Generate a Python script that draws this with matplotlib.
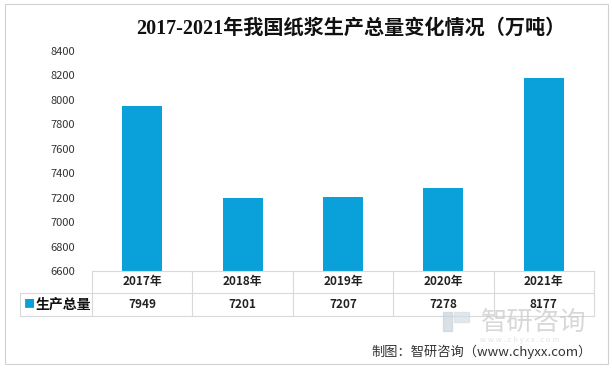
import matplotlib.pyplot as plt
from matplotlib.patches import Rectangle
from matplotlib.transforms import blended_transform_factory

# Datos
years = ['2017年', '2018年', '2019年', '2020年', '2021年']
output = [7949, 7201, 7207, 7278, 8177]
yticks = [6600, 6800, 7000, 7200, 7400, 7600, 7800, 8000, 8200, 8400]
series_name = '生产总量'

W, H = 612, 369
bar_color = '#0AA0DA'
line_color = '#D9D9D9'
cjk = ['Noto Sans CJK SC', 'DejaVu Sans']
plt.rcParams['font.family'] = cjk

fig = plt.figure(figsize=(W / 100, H / 100), dpi=100)

# marco exterior
fig.patches.append(Rectangle((5 / W, 1 - 364 / H), 603 / W, 360 / H,
                             transform=fig.transFigure, fill=False,
                             edgecolor='#D0D0D0', linewidth=0.8))

ax = fig.add_axes([92 / W, 1 - 271 / H, 502 / W, 220 / H])
x = range(len(years))
ax.bar(x, output, width=0.4, color=bar_color, zorder=2)
ax.set_xlim(-0.5, len(years) - 0.5)
ax.set_ylim(yticks[0], yticks[-1])
ax.set_yticks(yticks)
ax.set_yticklabels([str(v) for v in yticks], fontsize=8, color='#333333')
ax.tick_params(axis='y', length=0, pad=12)
ax.set_xticks([])
for s in ax.spines.values():
    s.set_visible(False)

# tabla de datos
tr = blended_transform_factory(ax.transData, ax.transAxes)
n = len(years)
left = -0.5 - 72 / 100.4
row_top, row_mid, row_bot = 0.0, -0.1, -0.205
kw = dict(transform=tr, clip_on=False, color=line_color, linewidth=0.8)
ax.plot([-0.5, n - 0.5], [row_top, row_top], **kw)
ax.plot([left, n - 0.5], [row_mid, row_mid], **kw)
ax.plot([left, n - 0.5], [row_bot, row_bot], **kw)
ax.plot([left, left], [row_mid, row_bot], **kw)
for i in range(n + 1):
    ax.plot([i - 0.5, i - 0.5], [row_top, row_bot], **kw)
for i, (yr, v) in enumerate(zip(years, output)):
    ax.text(i, (row_top + row_mid) / 2, yr, transform=tr, ha='center',
            va='center', fontsize=8.5, fontweight='bold', color='#222222')
    ax.text(i, (row_mid + row_bot) / 2, str(v), transform=tr, ha='center',
            va='center', fontsize=8.5, fontweight='bold', color='#222222')
ax.text(left + 0.04, (row_mid + row_bot) / 2, '■', transform=tr, ha='left',
        va='center', fontsize=8, color=bar_color)
ax.text(left + 0.16, (row_mid + row_bot) / 2, series_name, transform=tr,
        ha='left', va='center', fontsize=10, fontweight='bold', color='#111111')

# título
fig.text(351 / W, 1 - 29 / H, '2017-2021年我国纸浆生产总量变化情况（万吨）',
         ha='center', va='center', fontsize=14.5, fontweight='semibold',
         family=['Liberation Serif', 'Noto Sans CJK SC'], color='#111111')

# marca de agua
fig.patches.append(Rectangle((443 / W, 1 - 331 / H), 9 / W, 19 / H,
                             transform=fig.transFigure, color='#C9D3DE',
                             alpha=0.7))
fig.patches.append(Rectangle((454 / W, 1 - 322 / H), 15 / W, 10 / H,
                             transform=fig.transFigure, color='#D6DDE5',
                             alpha=0.7))
fig.text(534 / W, 1 - 322 / H, '智研咨询', ha='center', va='center',
         fontsize=19, color='#C8C8C8', alpha=0.7)
fig.text(520 / W, 1 - 339.5 / H, 'w w w . c h y x x . c o m', ha='center',
         va='center', fontsize=5.5, color='#D8D8D8', alpha=0.7)
fig.text(592 / W, 1 - 352 / H, '制图：智研咨询（www.chyxx.com）', ha='right',
         va='center', fontsize=9.5, color='#333333')

fig.savefig('out.png', dpi=100)
